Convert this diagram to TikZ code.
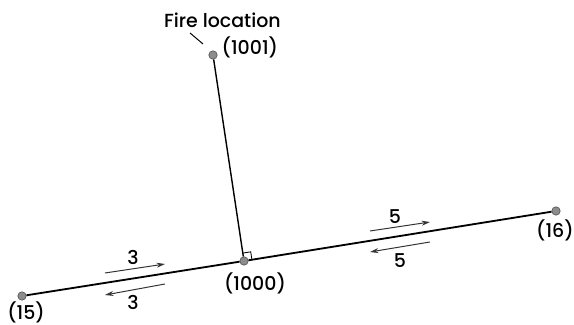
\documentclass[tikz,border=0pt]{standalone}
\usepackage{fontspec}
\setmainfont{Poppins Medium}
\usepackage{tikz}
\usetikzlibrary{arrows.meta,angles,quotes}

\tikzset{
  junction/.style={circle,draw=black!70,fill=black!45,line width=0.4pt,inner sep=0pt,minimum size=6pt},
  lbl/.style={font=\fontsize{13.5}{15}\selectfont},
  flow/.style={line width=0.7pt,black!80,-{Stealth[length=6pt,width=3.5pt]}}
}

\begin{document}
\begin{tikzpicture}
\useasboundingbox(0,0)rectangle(14.35,8.125);
% junctions
\node[junction](n15)at(0.55,0.725){};
\node[junction](n1000)at(6.1,1.6){};
\node[junction](n16)at(13.9,2.85){};
\node[junction](n1001)at(5.325,6.75){};
% street
\draw[line width=1.3pt](n15)--(n1000)--(n16);
\draw[line width=1pt](n1000)--(n1001);
\pic[draw,line width=0.6pt,angle radius=0.2cm]{right angle=n16--n1000--n1001};
% labels
\node[lbl,inner sep=1pt](l15)at(0.65,0.32){(15)};
\node[lbl,anchor=east,inner sep=0pt](l16)at(14.35,2.37){(16)};
\node[lbl](l1000)at(6.375,1.05){(1000)};
\node[lbl,anchor=west,inner sep=1pt](l1001)at(5.5,6.95){(1001)};
\node[lbl](fire)at(5.56,7.62){Fire location};
\coordinate(p1)at(4.75,7.3);\coordinate(p2)at(5.075,7.025);
\draw[line width=0.7pt](p1)--(p2);
% travel times
\coordinate(a1)at(2.625,1.3);\coordinate(a2)at(4.125,1.525);
\coordinate(a3)at(4.125,1.025);\coordinate(a4)at(2.625,0.75);
\coordinate(b1)at(9.25,2.35);\coordinate(b2)at(10.75,2.575);
\coordinate(b3)at(10.75,2.075);\coordinate(b4)at(9.25,1.825);
\draw[flow](a1)--(a2);
\draw[flow](a3)--(a4);
\draw[flow](b1)--(b2);
\draw[flow](b3)--(b4);
\node[lbl](ta)at(3.325,1.68){3};
\node[lbl](tb)at(3.325,0.57){3};
\node[lbl](tc)at(9.875,2.7){5};
\node[lbl](td)at(10.0,1.62){5};
\end{tikzpicture}
\end{document}
